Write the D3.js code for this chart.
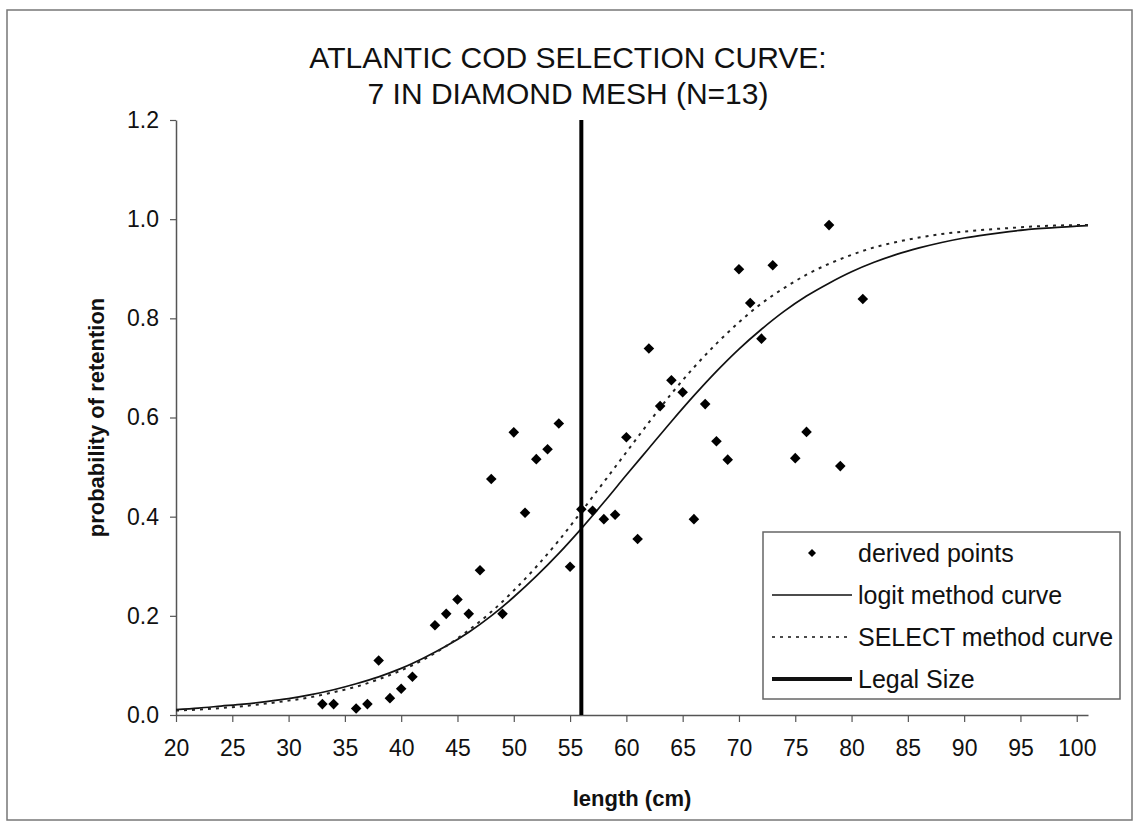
<!DOCTYPE html>
<html>
<head>
<meta charset="utf-8">
<script src="https://cdn.jsdelivr.net/npm/d3@7/dist/d3.min.js"></script>
<style>
  body { margin: 0; background: #fff; }
  svg { display: block; font-family: "Liberation Sans", Arial, sans-serif; }
</style>
</head>
<body>
<div class="chart"></div>
<script>
// --- data
const titleLines = ["ATLANTIC COD SELECTION CURVE:", "7 IN DIAMOND MESH (N=13)"];
const xTicks = [20, 25, 30, 35, 40, 45, 50, 55, 60, 65, 70, 75, 80, 85, 90, 95, 100];
const yTicks = [0, 0.2, 0.4, 0.6, 0.8, 1.0, 1.2];
const legalSize = 56;

// derived points
const pointLength = [33, 34, 36, 37, 38, 39, 40, 41, 43, 44, 45, 46, 47, 48, 49, 50, 51, 52, 53, 54, 55, 56,
  57, 58, 59, 60, 61, 62, 63, 64, 65, 66, 67, 68, 69, 70, 71, 72, 73, 75, 76, 78, 79, 81];
const pointRetention = [0.022, 0.022, 0.013, 0.022, 0.11, 0.034, 0.053, 0.077, 0.181, 0.204, 0.233, 0.204,
  0.292, 0.476, 0.204, 0.57, 0.408, 0.516, 0.536, 0.588, 0.299, 0.415, 0.412, 0.395, 0.404, 0.56, 0.355,
  0.739, 0.623, 0.675, 0.651, 0.395, 0.627, 0.552, 0.515, 0.899, 0.831, 0.759, 0.907, 0.518, 0.571,
  0.988, 0.502, 0.839];

// curves, sampled every 2 cm
const curveLength = [20, 22, 24, 26, 28, 30, 32, 34, 36, 38, 40, 42, 44, 46, 48, 50, 52, 54, 56, 58, 60,
  62, 64, 66, 68, 70, 72, 74, 76, 78, 80, 82, 84, 86, 88, 90, 92, 94, 96, 98, 100, 101];
const logitCurve = [0.011, 0.014, 0.018, 0.022, 0.027, 0.033, 0.041, 0.051, 0.063, 0.077, 0.094, 0.115,
  0.139, 0.167, 0.200, 0.238, 0.280, 0.326, 0.376, 0.429, 0.484, 0.538, 0.592, 0.644, 0.693, 0.738,
  0.778, 0.814, 0.845, 0.871, 0.894, 0.913, 0.929, 0.942, 0.953, 0.962, 0.969, 0.975, 0.980, 0.983,
  0.986, 0.987];
const selectCurve = [0.009, 0.011, 0.014, 0.018, 0.023, 0.029, 0.036, 0.046, 0.057, 0.072, 0.090, 0.112,
  0.139, 0.171, 0.208, 0.251, 0.299, 0.352, 0.410, 0.470, 0.530, 0.590, 0.648, 0.701, 0.749, 0.792,
  0.830, 0.861, 0.888, 0.910, 0.928, 0.943, 0.954, 0.963, 0.970, 0.975, 0.979, 0.982, 0.985, 0.987,
  0.988, 0.988];

const legendLabels = ["derived points", "logit method curve", "SELECT method curve", "Legal Size"];

// --- layout
const width = 1138, height = 833;
const plot = { left: 176, right: 1088, top: 120, bottom: 715 };

const svg = d3.select(".chart").append("svg")
    .attr("width", width)
    .attr("height", height);

// outer chart border
svg.append("rect")
    .attr("x", 7).attr("y", 10)
    .attr("width", 1125).attr("height", 810)
    .attr("fill", "none")
    .attr("stroke", "#777")
    .attr("stroke-width", 1.5);

const x = d3.scaleLinear().domain([20, 101]).range([plot.left, plot.right]);
const y = d3.scaleLinear().domain([0, 1.2]).range([plot.bottom, plot.top]);

// title
svg.append("g").selectAll("text")
    .data(titleLines)
    .enter().append("text")
    .attr("x", 568)
    .attr("y", function(d, i) { return 68 + i * 36; })
    .attr("text-anchor", "middle")
    .attr("font-size", "30px")
    .attr("fill", "#111")
    .text(function(d) { return d; });

// axes
const xAxis = svg.append("g")
    .attr("transform", "translate(0," + plot.bottom + ")")
    .call(d3.axisBottom(x).tickValues(xTicks).tickSize(7).tickPadding(18).tickSizeOuter(0));
const yAxis = svg.append("g")
    .attr("transform", "translate(" + plot.left + ",0)")
    .call(d3.axisLeft(y).tickValues(yTicks).tickSize(6).tickPadding(11).tickSizeOuter(0)
        .tickFormat(d3.format(".1f")));

[xAxis, yAxis].forEach(function(a) {
    a.select(".domain").attr("stroke", "#555").attr("stroke-width", 1.5);
    a.selectAll(".tick line").attr("stroke", "#555").attr("stroke-width", 1.2);
    a.selectAll(".tick text")
        .attr("font-family", "Liberation Sans, Arial, sans-serif")
        .attr("font-size", "23px")
        .attr("fill", "#111");
});

// axis titles
svg.append("text")
    .attr("x", (plot.left + plot.right) / 2)
    .attr("y", 806)
    .attr("text-anchor", "middle")
    .attr("font-size", "22px")
    .attr("font-weight", "bold")
    .attr("fill", "#111")
    .text("length (cm)");

svg.append("text")
    .attr("transform", "translate(104," + (plot.top + plot.bottom) / 2 + ") rotate(-90)")
    .attr("text-anchor", "middle")
    .attr("font-size", "22px")
    .attr("font-weight", "bold")
    .attr("fill", "#111")
    .text("probability of retention");

// curves
const line = d3.line()
    .x(function(d) { return x(d[0]); })
    .y(function(d) { return y(d[1]); })
    .curve(d3.curveMonotoneX);

svg.append("path")
    .datum(d3.zip(curveLength, logitCurve))
    .attr("d", line)
    .attr("fill", "none")
    .attr("stroke", "#111")
    .attr("stroke-width", 1.7);

svg.append("path")
    .datum(d3.zip(curveLength, selectCurve))
    .attr("d", line)
    .attr("fill", "none")
    .attr("stroke", "#222")
    .attr("stroke-width", 2)
    .attr("stroke-dasharray", "3,5");

// legal size
svg.append("line")
    .attr("x1", x(legalSize)).attr("x2", x(legalSize))
    .attr("y1", y(0)).attr("y2", y(1.2))
    .attr("stroke", "#000")
    .attr("stroke-width", 4);

// derived points
const diamond = d3.symbol().type(d3.symbolSquare).size(56);
svg.append("g").selectAll("path")
    .data(d3.zip(pointLength, pointRetention))
    .enter().append("path")
    .attr("d", diamond)
    .attr("transform", function(d) { return "translate(" + x(d[0]) + "," + y(d[1]) + ") rotate(45)"; })
    .attr("fill", "#000");

// legend
const legend = svg.append("g").attr("class", "legend");
legend.append("rect")
    .attr("x", 763).attr("y", 532)
    .attr("width", 357).attr("height", 167)
    .attr("fill", "#fff")
    .attr("stroke", "#666")
    .attr("stroke-width", 1.5);

const rows = legend.selectAll("g.row")
    .data(legendLabels)
    .enter().append("g")
    .attr("class", "row")
    .attr("transform", function(d, i) { return "translate(0," + (553 + i * 42) + ")"; });

rows.append("text")
    .attr("x", 858)
    .attr("y", 9)
    .attr("font-size", "25px")
    .attr("fill", "#111")
    .text(function(d) { return d; });

rows.filter(function(d, i) { return i === 0; }).append("path")
    .attr("d", d3.symbol().type(d3.symbolSquare).size(32))
    .attr("transform", "translate(812,0) rotate(45)")
    .attr("fill", "#000");

rows.filter(function(d, i) { return i > 0; }).append("line")
    .attr("x1", 772).attr("x2", 852)
    .attr("y1", 0).attr("y2", 0)
    .attr("stroke", "#111")
    .attr("stroke-width", function(d, i) { return i === 2 ? 4 : 1.7; })
    .attr("stroke-dasharray", function(d, i) { return i === 1 ? "3,5" : null; });
</script>
</body>
</html>
